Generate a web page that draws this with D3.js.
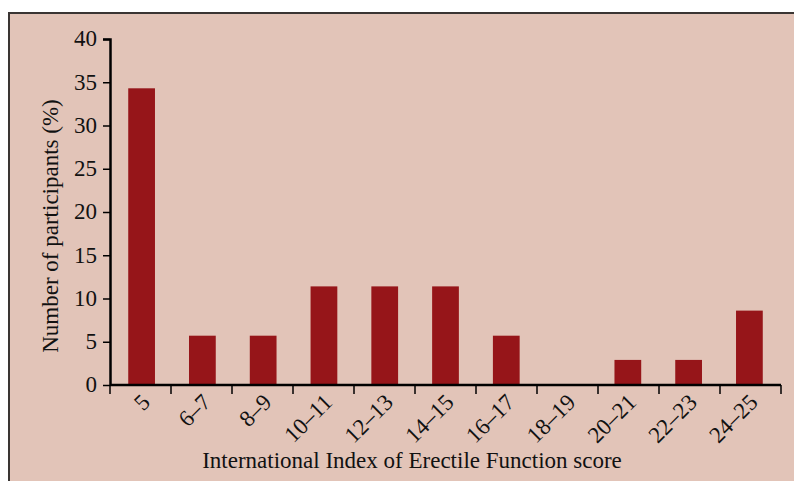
<!DOCTYPE html>
<html>
<head>
<meta charset="utf-8">
<script src="https://cdn.jsdelivr.net/npm/d3@7"></script>
<style>
  body { margin: 0; background: #fff; }
  text { font-family: "Liberation Serif", "DejaVu Serif", serif; fill: #111; }
</style>
</head>
<body>
<div id="chart"></div>
<script>
// data
const categories = ["5", "6–7", "8–9", "10–11", "12–13", "14–15", "16–17", "18–19", "20–21", "22–23", "24–25"];
const percents = [34.3, 5.7, 5.7, 11.4, 11.4, 11.4, 5.7, 0, 2.9, 2.9, 8.6];
const yTicks = [0, 5, 10, 15, 20, 25, 30, 35, 40];

const outerWidth = 794;
const outerHeight = 481;
const margin = { top: 39, right: 13, bottom: 96, left: 110 };
const width = outerWidth - margin.left - margin.right;
const height = outerHeight - margin.top - margin.bottom;

const svg = d3.select("#chart").append("svg")
	.attr("width", outerWidth)
	.attr("height", outerHeight);

// panel background with top/left frame
svg.append("rect")
	.attr("x", 8).attr("y", 12)
	.attr("width", outerWidth - 8).attr("height", outerHeight - 12)
	.style("fill", "#e2c4b8");
svg.append("path")
	.attr("d", `M9,${outerHeight} V13 H${outerWidth}`)
	.style("fill", "none")
	.style("stroke", "#3a3533")
	.style("stroke-width", 2);

const g = svg.append("g")
	.attr("transform", `translate(${margin.left}, ${margin.top})`);

const x = d3.scaleBand()
	.domain(categories)
	.range([0, width])
	.paddingInner(0.56)
	.paddingOuter(0.3);

const y = d3.scaleLinear()
	.domain([0, 40])
	.range([height, 0]);

g.selectAll("rect.bar")
	.data(categories.map((c, i) => ({ cat: c, val: percents[i] })))
	.enter()
	.append("rect")
	.attr("class", "bar")
	.attr("x", d => x(d.cat))
	.attr("y", d => y(d.val))
	.attr("width", x.bandwidth())
	.attr("height", d => height - y(d.val))
	.style("fill", "#961519");

// y axis
const yAxis = g.append("g")
	.call(d3.axisLeft(y).tickValues(yTicks).tickSize(7).tickPadding(6));
yAxis.select(".domain").attr("d", `M-7,0.5H0.5V${height}`).style("stroke-width", 2.5);
yAxis.selectAll(".tick line").style("stroke-width", 1.5);
yAxis.selectAll("text").style("font-size", "23px").attr("dy", "0.3em");

// x axis, ticks at band edges
const edges = d3.range(categories.length + 1).map(i => i * width / categories.length);
const xAxis = g.append("g").attr("transform", `translate(0, ${height})`);
xAxis.append("line")
	.attr("x1", 0).attr("x2", width)
	.style("stroke", "#000").style("stroke-width", 2.5);
xAxis.selectAll("line.tk")
	.data(edges)
	.enter().append("line")
	.attr("class", "tk")
	.attr("x1", d => d).attr("x2", d => d)
	.attr("y1", 0).attr("y2", 9)
	.style("stroke", "#000").style("stroke-width", 1.5);
xAxis.selectAll("text")
	.data(categories)
	.enter().append("text")
	.attr("transform", d => `translate(${x(d) + x.bandwidth() / 2 + 4}, 13) rotate(-45)`)
	.style("text-anchor", "end")
	.style("font-size", "23px")
	.attr("dy", "0.35em")
	.text(d => d);

// axis titles
svg.append("text")
	.attr("transform", `translate(58, 226) rotate(-90)`)
	.style("text-anchor", "middle")
	.style("font-size", "23px")
	.text("Number of participants (%)");

svg.append("text")
	.attr("x", 412)
	.attr("y", 468)
	.style("text-anchor", "middle")
	.style("font-size", "23px")
	.text("International Index of Erectile Function score");
</script>
</body>
</html>
